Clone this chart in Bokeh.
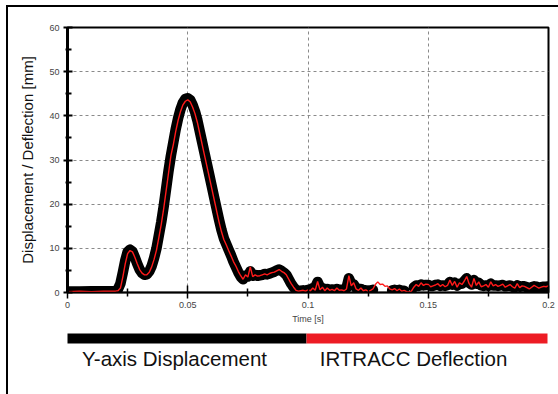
from bokeh.plotting import figure
from bokeh.models import Range1d, FixedTicker, Column
from bokeh.core.properties import value
from bokeh.embed import file_html
from bokeh.resources import INLINE

nan = float("nan")

# time grid [s]
time_s = [0.0, 0.005, 0.010, 0.015] + [round(0.020 + 0.001 * i, 3) for i in range(181)]

# Y-axis displacement [mm] (black, thick)
y_displacement_mm = [
    0.2, 0.2, 0.3, 0.3,
    0.3, 0.8, 2.0, 4.5, 7.2, 9.2, 9.7, 9.3, 8.0, 6.5,
    5.2, 4.4, 4.0, 4.1, 4.8, 6.0, 7.8, 10.0, 13.0, 16.0,
    19.5, 23.5, 27.5, 31.0, 34.0, 37.0, 39.5, 41.5, 43.0, 43.8,
    44.0, 43.6, 42.5, 41.0, 39.0, 36.5, 34.0, 31.5, 29.0, 26.5,
    24.0, 21.5, 19.0, 16.5, 14.2, 12.3, 11.0, 9.7, 8.4, 7.0,
    5.8, 4.6, 3.6, 3.0, 3.8, 3.6, 4.8, 3.8, 4.0, 3.8,
    3.9, 4.0, 4.2, 4.1, 4.3, 4.5, 4.7, 5.0, 5.2, 4.9,
    4.5, 4.0, 3.0, 2.0, 1.2, 0.6, 0.4, 0.4, 0.5, 0.4,
    0.6, 0.6, 1.0, 1.2, 2.4, 1.2, 1.0, 0.6, 0.8, 0.6,
    0.7, 0.6, 0.8, 0.6, 0.6, 0.5, 1.0, 3.2, 2.0, 1.8,
    1.0, 0.7, 0.8, 0.5, 0.5, 0.4, 0.5, 0.6, nan, nan,
    nan, nan, nan, nan, nan, 0.5, 0.6, 0.5, 0.6, 0.4,
    0.4, nan, nan, nan, 1.2, 1.6, 1.5, 1.8, 1.6, 1.7,
    1.7, 1.5, 1.5, 1.7, 1.8, 1.5, 1.6, 1.5, 1.7, 2.4,
    1.8, 2.2, 1.6, 2.0, 2.0, 2.6, 3.2, 2.2, 1.8, 2.8,
    2.0, 2.2, 1.6, 1.5, 1.6, 1.5, 2.0, 1.6, 1.6, 1.5,
    1.6, 1.7, 1.4, 1.5, 1.6, 1.3, 1.2, 1.6, 1.3, 1.4,
    1.4, 1.2, 1.0, 1.2, 1.4, 1.3, 1.1, 1.2, 1.3, 1.3,
    1.4,
]

# IRTRACC deflection [mm] (red, thin)
irtracc_deflection_mm = [
    0.2, 0.3, 0.2, 0.3,
    0.3, 0.4, 1.0, 3.5, 6.5, 8.8, 9.5, 9.2, 8.0, 6.5,
    5.2, 4.4, 4.0, 4.0, 4.6, 5.8, 7.5, 9.6, 12.5, 15.5,
    19.0, 23.0, 27.0, 31.0, 33.5, 36.5, 39.0, 41.0, 42.5, 43.3,
    43.6, 43.2, 42.0, 40.5, 38.5, 36.0, 33.5, 31.0, 28.5, 26.0,
    23.5, 21.0, 18.5, 16.0, 13.8, 12.0, 10.8, 9.5, 8.3, 7.0,
    6.0, 4.8, 3.8, 3.0, 4.0, 3.5, 5.8, 3.6, 4.0, 3.7,
    3.8, 4.0, 4.2, 4.0, 4.3, 4.5, 4.6, 4.9, 5.2, 4.8,
    4.5, 4.0, 3.0, 2.0, 1.2, 0.5, 0.3, 0.4, 0.5, 0.3,
    0.6, 0.4, 1.0, 0.5, 2.5, 0.6, 1.2, 0.4, 1.0, 0.5,
    0.7, 0.4, 1.0, 0.5, 0.6, 0.4, 0.8, 3.8, 1.5, 2.2,
    0.8, 0.5, 1.0, 0.4, 0.6, 0.3, 0.5, 0.8, 1.8, 2.4,
    1.8, 1.9, 1.4, 1.5, 0.8, 0.6, 0.9, 0.4, 0.8, 0.3,
    0.5, 0.2, 0.1, 0.3, 1.2, 1.8, 1.4, 2.2, 1.6, 1.9,
    1.8, 1.3, 1.5, 1.7, 2.0, 1.4, 1.8, 1.3, 1.6, 2.8,
    1.6, 2.5, 1.2, 2.2, 1.8, 2.6, 3.6, 2.0, 1.2, 3.2,
    1.6, 2.4, 1.3, 1.5, 1.8, 1.2, 2.4, 1.5, 1.8, 1.4,
    1.6, 1.9, 1.2, 1.5, 1.8, 1.3, 1.0, 2.0, 1.1, 1.5,
    1.4, 1.1, 0.8, 1.2, 1.6, 1.3, 1.0, 1.2, 1.4, 1.3,
    1.5,
]

x_ticks = [0, 0.05, 0.1, 0.15, 0.2]
x_minor = [0.025, 0.075, 0.125, 0.175]
y_ticks = [0, 10, 20, 30, 40, 50, 60]
y_minor = [5, 15, 25, 35, 45, 55]

legend_labels = ["Y-axis Displacement", "IRTRACC Deflection"]
legend_colors = ["#000000", "#ED1C24"]

FONT = "Liberation Sans"

p = figure(width=550, height=319, output_backend="svg", toolbar_location=None,
           x_range=Range1d(0, 0.2), y_range=Range1d(0, 60),
           min_border_left=59, min_border_right=10, min_border_top=20,
           min_border_bottom=33, background_fill_color="white",
           border_fill_color="white")

p.outline_line_color = "black"
p.outline_line_width = 2

# grid
for g in (p.xgrid, p.ygrid):
    g.grid_line_color = "#8a8a8a"
    g.grid_line_dash = "3 3"
    g.grid_line_width = 1
p.xgrid.ticker = FixedTicker(ticks=[0.05, 0.1, 0.15])
p.ygrid.ticker = FixedTicker(ticks=[10, 20, 30, 40, 50])

# axes
xa = p.xaxis[0]
xa.ticker = FixedTicker(ticks=x_ticks, minor_ticks=x_minor)
xa.major_label_overrides = {0: "0", 0.05: "0.05", 0.1: "0.1", 0.15: "0.15", 0.2: "0.2"}
xa.axis_label = "Time [s]"
xa.axis_line_width = 1.5
xa.axis_line_color = "black"
xa.major_tick_in = 7
xa.major_tick_out = 6
xa.minor_tick_in = 4
xa.minor_tick_out = 4
xa.major_tick_line_width = 1.5
xa.minor_tick_line_width = 1.5
xa.major_label_text_font = FONT
xa.major_label_text_font_size = "9px"
xa.major_label_text_color = "#444444"
xa.major_label_standoff = 3
xa.axis_label_text_font = FONT
xa.axis_label_text_font_size = "9px"
xa.axis_label_text_font_style = "normal"
xa.axis_label_text_color = "#444444"
xa.axis_label_standoff = 3

ya = p.yaxis[0]
ya.ticker = FixedTicker(ticks=y_ticks, minor_ticks=y_minor)
ya.axis_label = "Displacement / Deflection [mm]"
ya.axis_line_width = 3
ya.axis_line_color = "black"
ya.major_tick_in = 5
ya.major_tick_out = 4
ya.minor_tick_in = 4
ya.minor_tick_out = 2
ya.major_tick_line_width = 2
ya.minor_tick_line_width = 2
ya.major_label_text_font = FONT
ya.major_label_text_font_size = "9px"
ya.major_label_text_color = "#444444"
ya.major_label_standoff = 4
ya.axis_label_text_font = FONT
ya.axis_label_text_font_size = "15px"
ya.axis_label_text_font_style = "normal"
ya.axis_label_text_color = "#111111"
ya.axis_label_standoff = 10

# data
p.line(time_s, y_displacement_mm, line_color=legend_colors[0], line_width=10.5,
       line_join="round", line_cap="round")
p.line(time_s, irtracc_deflection_mm, line_color="#ff1a1a", line_width=1.4)

# legend strip below the chart; its frame is aligned with the chart frame
# (page x 67..548), so ranges are expressed in page pixels
leg = figure(width=550, height=68, output_backend="svg", toolbar_location=None,
             x_range=Range1d(67, 548), y_range=Range1d(394, 326),
             x_axis_location=None, y_axis_location=None,
             min_border_top=0, min_border_bottom=0,
             background_fill_color="white", border_fill_color="white")
leg.outline_line_color = None
leg.grid.visible = False

bar_left = [63, 306]
bar_right = [306, 547]
text_x = [174, 413]
leg.quad(left=bar_left, right=bar_right, top=333, bottom=343,
         fill_color=legend_colors, line_color=None)
leg.text(x=text_x, y=[365, 365], text=legend_labels, text_align="center",
         text_baseline="middle", text_font=value(FONT),
         text_font_size="20.5px", text_color="#111111", y_offset=-7)

layout = Column(children=[p, leg], spacing=0, margin=(5, 0, 0, 6),
                styles={"border-left": "2px solid black",
                        "border-top": "2px solid black"})

open("out.html", "w").write(file_html(layout, INLINE))
